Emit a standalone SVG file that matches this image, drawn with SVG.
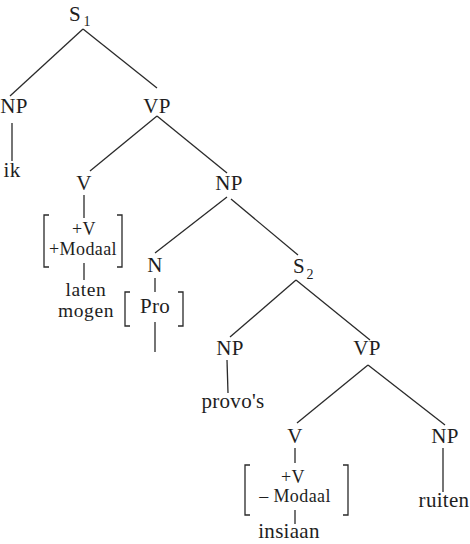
<svg xmlns="http://www.w3.org/2000/svg" width="470" height="544" viewBox="0 0 470 544">
<style>
text{font-family:"Liberation Serif","DejaVu Serif",serif;font-size:21px;letter-spacing:0.3px;fill:#1e1e1e;text-anchor:middle}
text.sub{font-size:14px;letter-spacing:0}
text.f{font-size:18px;letter-spacing:0.4px}
text.w{font-size:19.5px;letter-spacing:0.6px}
.e line,.b path{stroke:#2a2a2a;stroke-width:1.3;fill:none}
</style>
<rect width="470" height="544" fill="#fff"/>
<g id="connectors" class="e">
<line x1="83" y1="29" x2="10" y2="96"/>
<line x1="83" y1="29" x2="157" y2="88"/>
<line x1="12" y1="123" x2="12" y2="161"/>
<line x1="157" y1="116" x2="90" y2="171"/>
<line x1="157" y1="116" x2="227" y2="173"/>
<line x1="84" y1="195" x2="84" y2="218"/>
<line x1="84" y1="263" x2="84" y2="280"/>
<line x1="227" y1="197" x2="155" y2="253"/>
<line x1="231" y1="199" x2="298" y2="255"/>
<line x1="155" y1="278" x2="155" y2="292"/>
<line x1="155" y1="322" x2="155" y2="352"/>
<line x1="296" y1="280" x2="230" y2="337"/>
<line x1="296" y1="280" x2="370" y2="340"/>
<line x1="227" y1="360" x2="228" y2="393"/>
<line x1="368" y1="365" x2="297" y2="423"/>
<line x1="368" y1="365" x2="445" y2="425"/>
<line x1="295" y1="448" x2="295" y2="463"/>
<line x1="295" y1="510" x2="295" y2="524"/>
<line x1="443" y1="448" x2="443" y2="492"/>
</g>
<g id="S1"><text x="75" y="21">S</text><text class="sub" x="87" y="26">1</text></g>
<g id="NP1"><text x="14" y="113">NP</text></g>
<g id="ik"><text x="12" y="177">ik</text></g>
<g id="VP1"><text x="157" y="113">VP</text></g>
<g id="V1"><text x="84" y="190">V</text></g>
<g id="feat1" class="b">
<path d="M49,215 H44 V267 H49"/>
<path d="M117,215 H122 V267 H117"/>
<text class="f" x="84" y="235">+V</text>
<text class="f" x="83" y="255">+Modaal</text>
</g>
<g id="latenmogen"><text class="w" x="86" y="296">laten</text><text class="w" x="86" y="317">mogen</text></g>
<g id="NP2"><text x="229" y="190">NP</text></g>
<g id="N"><text x="155" y="272">N</text></g>
<g id="Pro" class="b">
<path d="M130,292 H125 V326 H130"/>
<path d="M178,292 H183 V326 H178"/>
<text x="155" y="313">Pro</text>
</g>
<g id="S2"><text x="299" y="273">S</text><text class="sub" x="310" y="279">2</text></g>
<g id="NP3"><text x="230" y="355">NP</text></g>
<g id="provos"><text x="233" y="408">provo's</text></g>
<g id="VP2"><text x="367" y="355">VP</text></g>
<g id="V2"><text x="295" y="443">V</text></g>
<g id="feat2" class="b">
<path d="M250,465 H245 V515 H250"/>
<path d="M343,465 H348 V515 H343"/>
<text class="f" x="293" y="483">+V</text>
<text class="f" x="295" y="502">– Modaal</text>
</g>
<g id="insiaan"><text x="289" y="538">insiaan</text></g>
<g id="NP4"><text x="445" y="443">NP</text></g>
<g id="ruiten"><text x="444" y="507">ruiten</text></g>
</svg>
